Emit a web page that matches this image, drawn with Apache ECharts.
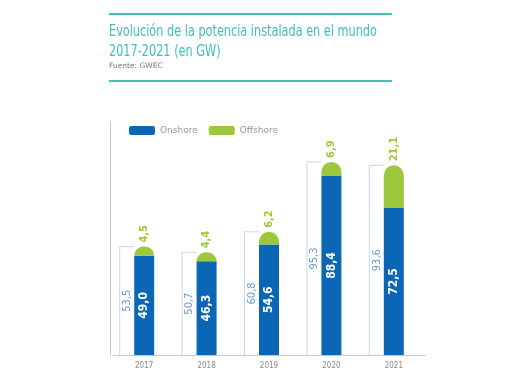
<!DOCTYPE html>
<html>
<head>
<meta charset="utf-8">
<script src="https://cdn.jsdelivr.net/npm/echarts@6/dist/echarts.min.js"></script>
<style>html,body{margin:0;padding:0;background:#fff}#c{width:510px;height:382px}</style>
</head>
<body>
<div id="c"></div>
<script>
const years = ['2017', '2018', '2019', '2020', '2021'];
const onshore = [49.0, 46.3, 54.6, 88.4, 72.5];
const offshore = [4.5, 4.4, 6.2, 6.9, 21.1];
const totals = [53.5, 50.7, 60.8, 95.3, 93.6];
const titleLines = ['Evolución de la potencia instalada en el mundo', '2017-2021 (en GW)'];
const sourceText = 'Fuente: GWEC';

const fmt = v => Number(v).toFixed(1).replace('.', ',');
const NARROW = '"Liberation Sans Narrow", "DejaVu Sans Condensed", sans-serif';
const TEAL = '#3fc0b8';
const BLUE = '#0b67b6';
const GREEN = '#9dc83c';
const BW = 20;

const chart = echarts.init(document.getElementById('c'), null, {renderer: 'canvas'});
chart.setOption({
  animation: false,
  backgroundColor: '#fff',
  graphic: [
    {type: 'line', shape: {x1: 109, y1: 14, x2: 392, y2: 14}, style: {stroke: TEAL, lineWidth: 2}},
    {type: 'line', shape: {x1: 109, y1: 81, x2: 392, y2: 81}, style: {stroke: TEAL, lineWidth: 2}},
    {type: 'text', x: 109, y: 32, scaleX: 0.81,
     style: {text: titleLines[0], fill: TEAL, font: '15.5px ' + NARROW, verticalAlign: 'middle'}},
    {type: 'text', x: 109, y: 52, scaleX: 0.81,
     style: {text: titleLines[1], fill: TEAL, font: '15.5px ' + NARROW, verticalAlign: 'middle'}},
    {type: 'text', x: 109, y: 66,
     style: {text: sourceText, fill: '#777', font: '7.5px "DejaVu Sans", sans-serif', verticalAlign: 'middle'}}
  ],
  legend: {
    left: 124, top: 121,
    icon: 'roundRect', itemWidth: 26, itemHeight: 9, itemGap: 11,
    textStyle: {color: '#999', fontFamily: '"DejaVu Sans", sans-serif', fontSize: 9},
    data: ['Onshore', 'Offshore']
  },
  grid: {left: 113, right: 85, top: 122, bottom: 27},
  xAxis: {
    type: 'category', data: years,
    axisLine: {lineStyle: {color: '#c8c8c8'}},
    axisTick: {show: false},
    axisLabel: {color: '#888', fontFamily: NARROW, fontSize: 8, margin: 7}
  },
  yAxis: {
    type: 'value', min: 0, max: 115, offset: 3,
    axisLine: {show: true, lineStyle: {color: '#c8c8c8'}},
    axisTick: {show: false}, axisLabel: {show: false}, splitLine: {show: false}
  },
  series: [
    {
      name: 'Onshore', type: 'bar', stack: 'a', barWidth: BW, data: onshore,
      itemStyle: {color: BLUE},
      label: {show: true, position: 'inside', rotate: 90, color: '#fff', fontWeight: 'bold',
        fontFamily: NARROW, fontSize: 12, formatter: p => fmt(p.value)}
    },
    {
      name: 'Offshore', type: 'bar', stack: 'a', barWidth: BW, data: offshore,
      itemStyle: {color: GREEN, borderRadius: [10, 10, 0, 0]},
      label: {show: true, position: 'top', rotate: 90, align: 'left', verticalAlign: 'middle', distance: 4,
        color: GREEN, fontWeight: 'bold', fontFamily: NARROW, fontSize: 11, formatter: p => fmt(p.value)}
    },
    {
      name: 'Total', type: 'custom', z: 1,
      data: totals.map((t, i) => [i, t]),
      renderItem: function (params, api) {
        const top = api.coord([api.value(0), api.value(1)]);
        const base = api.coord([api.value(0), 0]);
        const left = top[0] - BW / 2;
        const lx = left - 14.5;
        return {
          type: 'group',
          children: [
            {type: 'polyline', shape: {points: [[lx, base[1]], [lx, top[1]], [left, top[1]]]},
             style: {stroke: '#c8d7e6', lineWidth: 1, fill: null}},
            {type: 'text', x: left - 7, y: (top[1] + base[1]) / 2, rotation: Math.PI / 2,
             style: {text: fmt(api.value(1)), fill: '#6d9bd0', font: '11px ' + NARROW,
               align: 'center', verticalAlign: 'middle'}}
          ]
        };
      }
    }
  ]
});
</script>
</body>
</html>
